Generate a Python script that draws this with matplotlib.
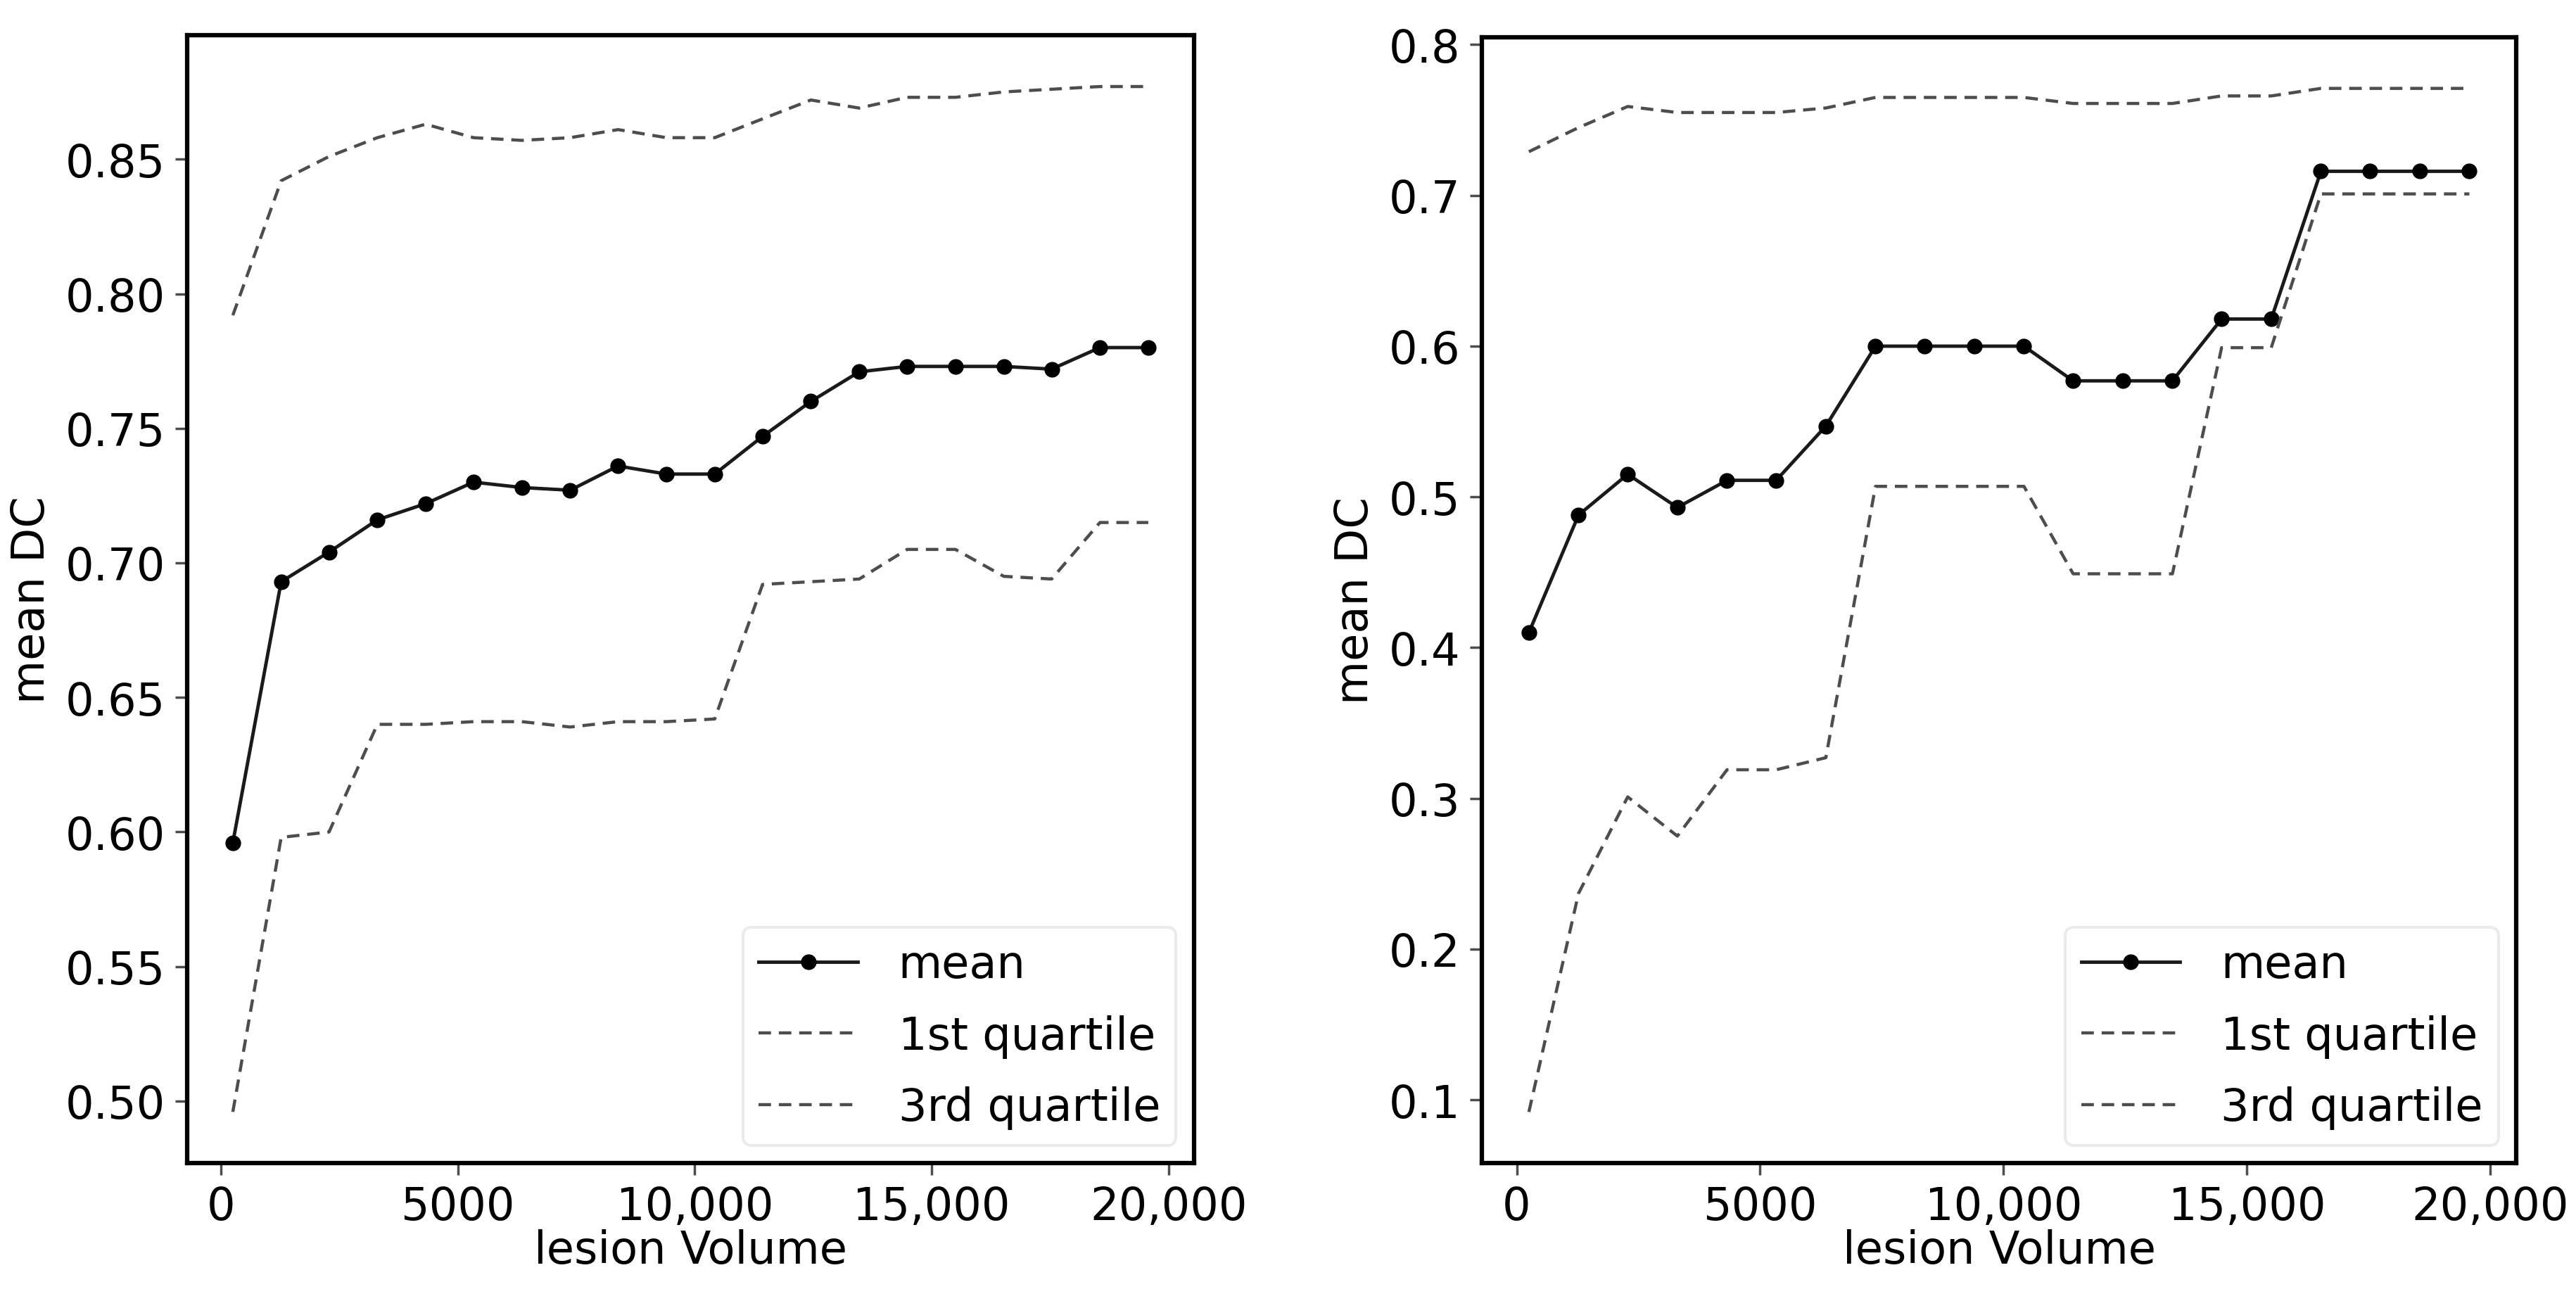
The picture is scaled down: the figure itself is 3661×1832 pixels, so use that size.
import matplotlib
matplotlib.use("Agg")
import matplotlib.pyplot as plt
from matplotlib.ticker import FixedLocator, FixedFormatter

# ---- data ----
lesion_volume = [250, 1270, 2280, 3300, 4320, 5330, 6350, 7370, 8380, 9400,
                 10420, 11430, 12450, 13470, 14480, 15500, 16520, 17530, 18550, 19570]

left_mean = [0.596, 0.693, 0.704, 0.716, 0.722, 0.730, 0.728, 0.727, 0.736, 0.733,
             0.733, 0.747, 0.760, 0.771, 0.773, 0.773, 0.773, 0.772, 0.780, 0.780]
left_q1 = [0.496, 0.598, 0.600, 0.640, 0.640, 0.641, 0.641, 0.639, 0.641, 0.641,
           0.642, 0.692, 0.693, 0.694, 0.705, 0.705, 0.695, 0.694, 0.715, 0.715]
left_q3 = [0.792, 0.842, 0.851, 0.858, 0.863, 0.858, 0.857, 0.858, 0.861, 0.858,
           0.858, 0.865, 0.872, 0.869, 0.873, 0.873, 0.875, 0.876, 0.877, 0.877]

right_mean = [0.410, 0.488, 0.515, 0.493, 0.511, 0.511, 0.547, 0.600, 0.600, 0.600,
              0.600, 0.577, 0.577, 0.577, 0.618, 0.618, 0.716, 0.716, 0.716, 0.716]
right_q1 = [0.092, 0.237, 0.301, 0.275, 0.319, 0.319, 0.327, 0.507, 0.507, 0.507,
            0.507, 0.449, 0.449, 0.449, 0.599, 0.599, 0.701, 0.701, 0.701, 0.701]
right_q3 = [0.729, 0.745, 0.759, 0.755, 0.755, 0.755, 0.758, 0.765, 0.765, 0.765,
            0.765, 0.761, 0.761, 0.761, 0.766, 0.766, 0.771, 0.771, 0.771, 0.771]

x_ticks = [0, 5000, 10000, 15000, 20000]
x_tick_labels = ["0", "5000", "10,000", "15,000", "20,000"]
left_y_ticks = [0.50, 0.55, 0.60, 0.65, 0.70, 0.75, 0.80, 0.85]
left_y_labels = ["0.50", "0.55", "0.60", "0.65", "0.70", "0.75", "0.80", "0.85"]
right_y_ticks = [0.1, 0.2, 0.3, 0.4, 0.5, 0.6, 0.7, 0.8]
right_y_labels = ["0.1", "0.2", "0.3", "0.4", "0.5", "0.6", "0.7", "0.8"]

legend_labels = ["mean", "1st quartile", "3rd quartile"]

# ---- style ----
FS = 46
plt.rcParams["font.family"] = ["DejaVu Sans"]
plt.rcParams["font.size"] = FS

fig = plt.figure(figsize=(36.62, 18.33), dpi=100)
ax_l = fig.add_axes([0.0726, 0.0976, 0.3908, 0.8745])
ax_r = fig.add_axes([0.5751, 0.0976, 0.4015, 0.8730])


def draw(ax, mean, q1, q3, yt, ylab):
    ax.plot(lesion_volume, mean, color="0.1", lw=3.5, marker="o", ms=15,
            mfc="black", mec="black", label=legend_labels[0])
    ax.plot(lesion_volume, q1, color="0.3", lw=3.2, ls=(0, (4, 2.5)),
            label=legend_labels[1])
    ax.plot(lesion_volume, q3, color="0.3", lw=3.2, ls=(0, (4, 2.5)),
            label=legend_labels[2])
    ax.xaxis.set_major_locator(FixedLocator(x_ticks))
    ax.xaxis.set_major_formatter(FixedFormatter(x_tick_labels))
    ax.yaxis.set_major_locator(FixedLocator(yt))
    ax.yaxis.set_major_formatter(FixedFormatter(ylab))
    ax.tick_params(labelsize=FS, length=12, width=2.5, pad=10, color="0.3")
    for s in ax.spines.values():
        s.set_linewidth(4.5)
        s.set_color("black")
    ax.set_xlabel("lesion Volume", fontsize=FS, labelpad=0)
    ax.set_ylabel("mean DC", fontsize=FS, labelpad=12)
    leg = ax.legend(loc="lower right", fontsize=FS, frameon=True,
                    borderpad=0.35, handlelength=2.2, handletextpad=0.9,
                    labelspacing=0.62, borderaxespad=0.4)
    leg.get_frame().set_linewidth(3)
    leg.get_frame().set_edgecolor("0.9")


draw(ax_l, left_mean, left_q1, left_q3, left_y_ticks, left_y_labels)
draw(ax_r, right_mean, right_q1, right_q3, right_y_ticks, right_y_labels)

fig.savefig("out.png", dpi=100, facecolor="white")
